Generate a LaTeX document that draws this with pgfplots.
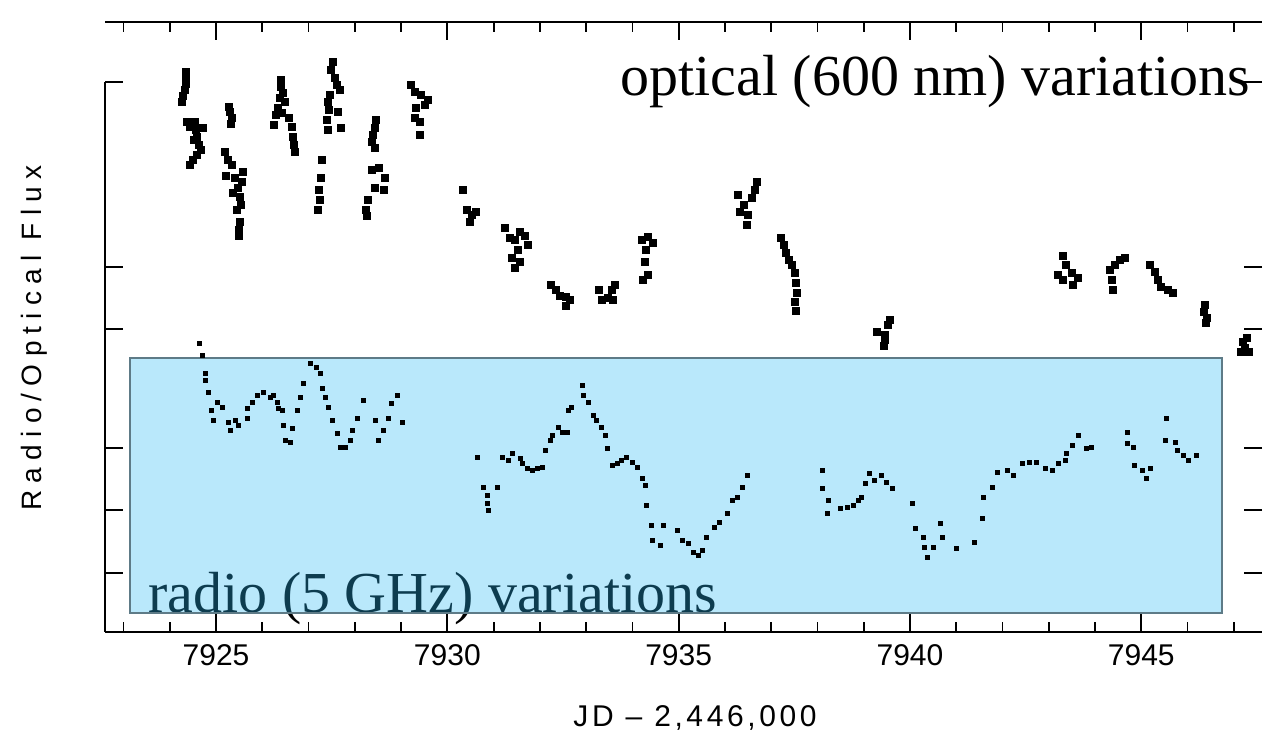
\documentclass[border=0pt]{standalone}
\usepackage{pgfplots}
\pgfplotsset{compat=1.18}
\usepackage{fontspec}
\setmainfont{Liberation Serif}
\newfontfamily\labelfont{Liberation Sans}
\definecolor{overlayblue}{rgb}{0.16,0.72,0.95}
\definecolor{boxedge}{RGB}{94,123,135}

\begin{document}
\begin{tikzpicture}
\begin{scope}[x=0.5bp,y=0.5bp]
\path[use as bounding box] (0,0) rectangle (1272,736);
% captions (the radio one lies under the tinted panel)
\node[anchor=base west, inner sep=0pt, font=\fontsize{29bp}{34bp}\selectfont] at (148,124) {radio (5 GHz) variations};
\node[anchor=base west, inner sep=0pt, font=\fontsize{29bp}{34bp}\selectfont] at (620,640) {optical (600 nm) variations};
\end{scope}

\begin{axis}[
  at={(52.5bp,52bp)}, anchor=south west,
  scale only axis, width=578.5bp, height=305bp,
  xmin=7922.60, xmax=7947.61, ymin=0, ymax=6.10,
  clip=false,
  separate axis lines,
  x axis line style={black, line width=1bp},
  y axis line style={draw=none},
  xtick={7925,7930,7935,7940,7945},
  xticklabels={7925,7930,7935,7940,7945},
  minor xtick={7923,7924,7926,7927,7928,7929,7931,7932,7933,7934,7936,7937,7938,7939,7941,7942,7943,7944,7946,7947},
  major tick length=9bp, minor tick length=5bp,
  every tick/.style={black, line width=0.9bp},
  xticklabel style={font=\labelfont\fontsize{15bp}{18bp}\selectfont, yshift=-3bp},
  ytick={0.59,1.22,1.84,3.03,3.65,5.50},
  yticklabels={},
]

% optical (600 nm) flux
\addplot[only marks, mark=square*, mark size=1.7bp, black] coordinates {
 (7924.35,5.60) (7924.35,5.54) (7924.35,5.48) (7924.33,5.42) (7924.29,5.36) (7924.27,5.30)
 (7924.37,5.10) (7924.44,5.05) (7924.55,5.10) (7924.57,5.02) (7924.59,4.95) (7924.52,4.92)
 (7924.63,4.87) (7924.68,4.82) (7924.59,4.77) (7924.50,4.72) (7924.44,4.67) (7924.72,5.04)
 (7925.28,5.25) (7925.30,5.20) (7925.35,5.14) (7925.32,5.08)
 (7925.19,4.80) (7925.26,4.72) (7925.35,4.67) (7925.22,4.56) (7925.41,4.54) (7925.58,4.60)
 (7925.56,4.50) (7925.48,4.44) (7925.37,4.39) (7925.52,4.35) (7925.54,4.27) (7925.45,4.22)
 (7925.52,4.10) (7925.50,4.02) (7925.50,3.96)
 (7926.40,5.52) (7926.40,5.45) (7926.45,5.39) (7926.38,5.34) (7926.49,5.30) (7926.34,5.24)
 (7926.30,5.17) (7926.43,5.19) (7926.25,5.07) (7926.58,5.14) (7926.64,5.05) (7926.66,4.95)
 (7926.69,4.87) (7926.71,4.80)
 (7927.53,5.70) (7927.49,5.62) (7927.57,5.54) (7927.62,5.47) (7927.68,5.42) (7927.46,5.37)
 (7927.42,5.30) (7927.44,5.22) (7927.64,5.20) (7927.40,5.12) (7927.42,5.02) (7927.70,5.04)
 (7927.29,4.72) (7927.27,4.54) (7927.23,4.42) (7927.25,4.32) (7927.20,4.22)
 (7928.46,5.12) (7928.44,5.04) (7928.39,4.97) (7928.37,4.90) (7928.44,4.84) (7928.37,4.62)
 (7928.52,4.64) (7928.65,4.54) (7928.63,4.42) (7928.44,4.44) (7928.29,4.32) (7928.24,4.22)
 (7928.26,4.16)
 (7929.21,5.47) (7929.30,5.40) (7929.43,5.37) (7929.58,5.32) (7929.52,5.27) (7929.32,5.24)
 (7929.30,5.14) (7929.41,5.10) (7929.41,4.97)
 (7930.34,4.42) (7930.42,4.22) (7930.53,4.17) (7930.62,4.20) (7930.49,4.10)
 (7931.25,4.04) (7931.35,3.94) (7931.46,3.92) (7931.57,4.00) (7931.68,3.96) (7931.74,3.87)
 (7931.53,3.82) (7931.40,3.74) (7931.57,3.70) (7931.46,3.64)
 (7932.24,3.47) (7932.35,3.42) (7932.43,3.36) (7932.56,3.35) (7932.65,3.32) (7932.56,3.26)
 (7933.28,3.42) (7933.34,3.32) (7933.47,3.34) (7933.56,3.42) (7933.62,3.47) (7933.58,3.32)
 (7934.21,3.92) (7934.34,3.95) (7934.44,3.89) (7934.29,3.82) (7934.27,3.70) (7934.34,3.57)
 (7934.23,3.52)
 (7936.28,4.37) (7936.41,4.27) (7936.58,4.34) (7936.65,4.42) (7936.69,4.50) (7936.50,4.17)
 (7936.48,4.07) (7936.32,4.20)
 (7937.21,3.94) (7937.28,3.87) (7937.32,3.79) (7937.38,3.72) (7937.45,3.67) (7937.51,3.59)
 (7937.54,3.49) (7937.56,3.39) (7937.51,3.30) (7937.54,3.21)
 (7939.29,3.00) (7939.46,2.97) (7939.52,3.07) (7939.57,3.12) (7939.46,2.92) (7939.44,2.86)
 (7943.31,3.76) (7943.37,3.67) (7943.20,3.57) (7943.31,3.52) (7943.50,3.59) (7943.63,3.54)
 (7943.52,3.47)
 (7944.32,3.62) (7944.43,3.67) (7944.54,3.72) (7944.65,3.74) (7944.36,3.52) (7944.39,3.42)
 (7945.19,3.67) (7945.29,3.60) (7945.36,3.52) (7945.42,3.45) (7945.57,3.42) (7945.68,3.39)
 (7946.37,3.27) (7946.35,3.20) (7946.42,3.14) (7946.40,3.09)
 (7947.20,2.90) (7947.28,2.94) (7947.24,2.84) (7947.15,2.80) (7947.33,2.80)
};

% radio (5 GHz) flux
\addplot[only marks, mark=square*, mark size=1.0bp, black] coordinates {
 (7924.65,2.89) (7924.70,2.77) (7924.76,2.59) (7924.76,2.52) (7924.83,2.40) (7924.91,2.22)
 (7925.02,2.30) (7924.94,2.12) (7925.13,2.25) (7925.26,2.10) (7925.30,2.02) (7925.41,2.12)
 (7925.48,2.07) (7925.67,2.14) (7925.67,2.24) (7925.78,2.30) (7925.89,2.37) (7926.02,2.40)
 (7926.17,2.35) (7926.23,2.37) (7926.32,2.30) (7926.34,2.24) (7926.43,2.22) (7926.45,2.07)
 (7926.49,1.92) (7926.60,1.90) (7926.66,2.04) (7926.75,2.22) (7926.82,2.35) (7926.88,2.49)
 (7927.03,2.69) (7927.18,2.65) (7927.25,2.59) (7927.29,2.44) (7927.36,2.35) (7927.42,2.25)
 (7927.51,2.12) (7927.62,1.99) (7927.68,1.85) (7927.79,1.85) (7927.90,1.92) (7927.94,2.02)
 (7928.05,2.14) (7928.18,2.32) (7928.44,2.12) (7928.50,1.92) (7928.61,2.02) (7928.72,2.14)
 (7928.80,2.29) (7928.93,2.37) (7929.02,2.10)
 (7930.66,1.75) (7930.77,1.45) (7930.86,1.37) (7930.86,1.29) (7930.88,1.22) (7931.09,1.45)
 (7931.20,1.75) (7931.31,1.72) (7931.40,1.79) (7931.57,1.74) (7931.63,1.69) (7931.72,1.64)
 (7931.83,1.62) (7931.94,1.64) (7932.05,1.65) (7932.11,1.82) (7932.22,1.92) (7932.28,1.97)
 (7932.39,2.05) (7932.48,2.00) (7932.59,2.00) (7932.61,2.22) (7932.69,2.25) (7932.91,2.47)
 (7932.93,2.37) (7933.04,2.30) (7933.15,2.17) (7933.23,2.12) (7933.34,2.05) (7933.41,1.97)
 (7933.45,1.84) (7933.56,1.67) (7933.67,1.69) (7933.77,1.72) (7933.88,1.75) (7933.99,1.70)
 (7934.10,1.65) (7934.21,1.54) (7934.27,1.47) (7934.31,1.27) (7934.42,1.07) (7934.44,0.92)
 (7934.60,0.87) (7934.66,1.07) (7934.98,1.02) (7935.09,0.92) (7935.20,0.89) (7935.31,0.80)
 (7935.42,0.77) (7935.52,0.82) (7935.61,0.95) (7935.78,1.05) (7935.89,1.10) (7936.06,1.19)
 (7936.17,1.32) (7936.28,1.35) (7936.37,1.45) (7936.48,1.57)
 (7938.10,1.62) (7938.10,1.44) (7938.23,1.32) (7938.21,1.19) (7938.49,1.24) (7938.64,1.25)
 (7938.77,1.27) (7938.88,1.32) (7938.96,1.35) (7939.03,1.49) (7939.13,1.59) (7939.24,1.52)
 (7939.39,1.57) (7939.50,1.50) (7939.63,1.44) (7940.06,1.29) (7940.11,1.04) (7940.28,0.95)
 (7940.32,0.85) (7940.37,0.75) (7940.50,0.85) (7940.65,1.09) (7940.71,0.95) (7941.01,0.84)
 (7941.40,0.90) (7941.56,1.14) (7941.58,1.35) (7941.79,1.45) (7941.88,1.60) (7942.10,1.62)
 (7942.23,1.57) (7942.42,1.69) (7942.59,1.70) (7942.74,1.70) (7942.92,1.64) (7943.07,1.62)
 (7943.20,1.69) (7943.35,1.72) (7943.39,1.79) (7943.52,1.87) (7943.63,1.97) (7943.82,1.84)
 (7943.93,1.85) (7944.71,2.00) (7944.71,1.89) (7944.82,1.85) (7944.86,1.67) (7945.03,1.62)
 (7945.19,1.64) (7945.12,1.54) (7945.55,2.14) (7945.51,1.92) (7945.73,1.90) (7945.77,1.82)
 (7945.90,1.77) (7946.01,1.72) (7946.20,1.77)
};

% tinted panel over the radio curve
\addplot[draw=none, fill=overlayblue, fill opacity=0.33] coordinates {
 (7923.14,0.19) (7946.74,0.19) (7946.74,2.74) (7923.14,2.74)} -- cycle;
\addplot[draw=boxedge, line width=1bp, mark=none] coordinates {
 (7923.14,0.19) (7946.74,0.19) (7946.74,2.74) (7923.14,2.74)} -- cycle;
\end{axis}

\begin{scope}[x=0.5bp,y=0.5bp]
% left frame line
\draw[line width=1bp] (105,654) -- (105,104);
% axis titles
\node[rotate=90, font=\labelfont\fontsize{14bp}{17bp}\selectfont\addfontfeatures{LetterSpace=26}] at (34,398) {Radio/Optical Flux};
\node[font=\labelfont\fontsize{15bp}{18bp}\selectfont\addfontfeatures{LetterSpace=12}] at (695,18) {JD – 2,446,000};
\end{scope}
\end{tikzpicture}
\end{document}
